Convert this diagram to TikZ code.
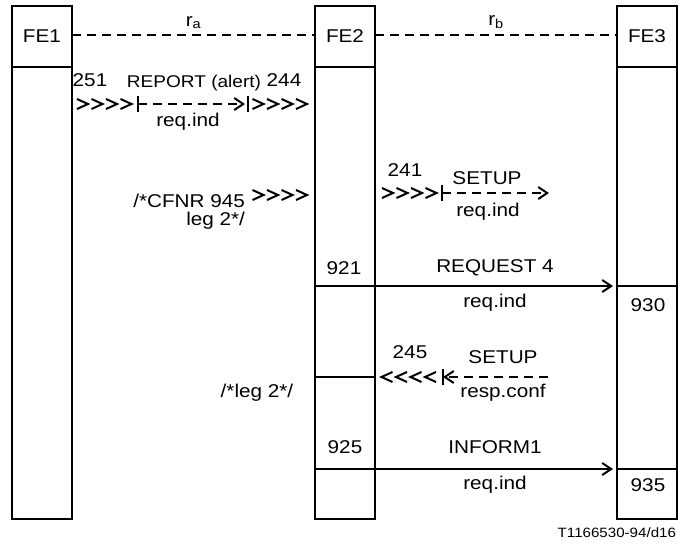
\documentclass[tikz,border=0pt]{standalone}
\usepackage{fontspec}
\setmainfont{Liberation Sans}[FakeStretch=1.12]
\usetikzlibrary{positioning, arrows.meta}
\tikzset{
	fe/.style={draw, minimum width=60pt, minimum height=61pt, inner sep=0pt, outer sep=0pt}, % Cabecera de cada FE
	col/.style={draw, minimum width=60pt, minimum height=452pt, inner sep=0pt, outer sep=0pt}, % Cuerpo de cada FE
	txt/.style={inner sep=0pt, font=\fontsize{18.5}{18}\selectfont}, % Texto normal
	msg/.style={-{Straight Barb[length=9pt, width=12pt]}}, % Flecha abierta
	raya/.style={dash pattern=on 9pt off 6pt}, % Raya de los mensajes
	chevs/.pic={\foreach \i in {0,...,3} \draw (\i*14.5,-5) -- ++(11,5) -- ++(-11,5);} % >>>>
}

\begin{document}
\begin{tikzpicture}[x=1pt, y=-1pt, line width=2pt]
	\useasboundingbox (0,0) rectangle (678,544);
	\node[fe, txt] (fe1) at (42,36.5) {FE1};
	\node[fe, txt, right=243pt of fe1] (fe2) {FE2};
	\node[fe, txt, right=242pt of fe2] (fe3) {FE3};
	\node[col, below=0pt of fe1] (c1) {};
	\node[col, below=0pt of fe2] (c2) {};
	\node[col, below=0pt of fe3] (c3) {};

	% niveles de las lineas
	\coordinate (r0) at (0,35);
	\coordinate (r3) at (0,286);
	\coordinate (r5) at (0,377);
	\coordinate (r6) at (0,469);

	\draw[raya] (fe1.east |- r0) -- node[txt, above=5pt] {r\textsubscript{a}} (fe2.west |- r0);
	\draw[raya] (fe2.east |- r0) -- node[txt, above=5pt] {r\textsubscript{b}} (fe3.west |- r0);

	% REPORT (alert)
	\coordinate (a1) at (138,104);
	\coordinate (b1) at (248,104);
	\pic at (77,104) {chevs};
	\pic at (252.5,104) {chevs};
	\draw[msg, raya] (a1) -- ([xshift=-3pt]b1);
	\draw ([yshift=-8pt]a1) -- ([yshift=8pt]a1);
	\draw ([yshift=-8pt]b1) -- ([yshift=8pt]b1);
	\node[txt] (n251) at (90,80) {251};
	\node[txt, font=\fontsize{17}{16}\selectfont] (report) at (194,83) {REPORT (alert)};
	\node[txt] (n244) at (284,80) {244};
	\node[txt] (ind1) at (188,122) {req.ind};

	% CFNR
	\pic at (252.5,195) {chevs};
	\node[txt, align=right, anchor=east] (cfnr) at (246,212) {/*CFNR 945\\leg 2*/};

	% SETUP req.ind
	\coordinate (a2) at (442,193);
	\coordinate (b2) at (549,193);
	\pic at (382,193) {chevs};
	\draw[msg, raya] (a2) -- (b2);
	\draw ([yshift=-8pt]a2) -- ([yshift=8pt]a2);
	\node[txt] (n241) at (405,170) {241};
	\node[txt] (setup1) at (487,178) {SETUP};
	\node[txt] (ind2) at (488,212) {req.ind};

	% REQUEST 4
	\draw[msg] (c2.west |- r3) -- ([xshift=-4pt]c3.west |- r3);
	\draw (c3.west |- r3) -- (c3.east |- r3);
	\node[txt] (n921) at (344,268) {921};
	\node[txt] (request) at (495,268) {REQUEST 4};
	\node[txt] (ind3) at (495,303) {req.ind};
	\node[txt] (n930) at (648,305) {930};

	% SETUP resp.conf
	\coordinate (a3) at (443,377);
	\coordinate (b3) at (548,377);
	\draw (c2.west |- r5) -- (c2.east |- r5);
	\pic[xscale=-1] at (436,377) {chevs};
	\draw[msg, raya] (b3) -- (a3);
	\draw ([yshift=-8pt]a3) -- ([yshift=8pt]a3);
	\node[txt] (n245) at (410,352) {245};
	\node[txt] (setup2) at (503,357) {SETUP};
	\node[txt] (conf) at (503,393) {resp.conf};
	\node[txt] (leg) at (257,393) {/*leg 2*/};

	% INFORM1
	\draw[msg] (c2.west |- r6) -- ([xshift=-4pt]c3.west |- r6);
	\draw (c3.west |- r6) -- (c3.east |- r6);
	\node[txt] (n925) at (345,447) {925};
	\node[txt] (inform) at (495,447) {INFORM1};
	\node[txt] (ind4) at (495,485) {req.ind};
	\node[txt] (n935) at (648,485) {935};

	\node[txt, font=\fontsize{13.5}{14}\selectfont, anchor=east] (ref) at (677,533) {T1166530-94/d16};
\end{tikzpicture}
\end{document}
